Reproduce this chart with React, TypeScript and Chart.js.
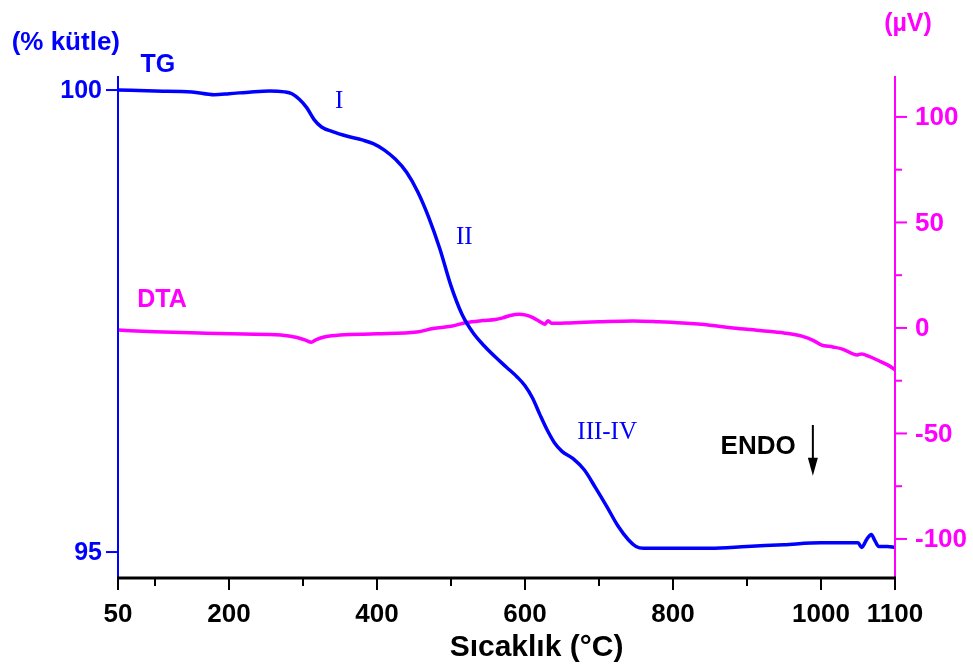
import React, { useEffect, useRef } from "react";
import { Chart, registerables } from "chart.js";

Chart.register(...registerables);

// ---- Data ----
const tgTemp = [50, 100, 150, 180, 200, 230, 255, 275, 285, 295, 305, 315, 325, 340, 360, 380, 395, 410, 425, 440, 455, 470, 485, 500, 515, 530, 545, 560, 575, 590, 600, 610, 620, 630, 640, 650, 665, 680, 695, 710, 725, 740, 750, 760, 780, 850, 900, 950, 1000, 1040, 1050, 1055, 1062, 1068, 1073, 1078, 1090, 1100];
const tgMass = [100.0, 99.99, 99.98, 99.95, 99.96, 99.98, 99.99, 99.98, 99.96, 99.9, 99.81, 99.68, 99.6, 99.55, 99.5, 99.46, 99.42, 99.35, 99.25, 99.11, 98.9, 98.62, 98.28, 97.88, 97.57, 97.37, 97.23, 97.11, 97.0, 96.89, 96.8, 96.67, 96.49, 96.32, 96.18, 96.09, 96.01, 95.89, 95.7, 95.5, 95.29, 95.13, 95.06, 95.04, 95.04, 95.04, 95.06, 95.08, 95.1, 95.1, 95.1, 95.05, 95.14, 95.19, 95.12, 95.06, 95.06, 95.05];

const dtaTemp = [50, 100, 160, 220, 270, 292, 305, 311, 318, 330, 350, 400, 454, 476, 500, 521, 543, 560, 570, 580, 592, 600, 610, 620, 627, 631, 636, 660, 700, 746, 780, 813, 850, 881, 920, 950, 975, 990, 1000, 1016, 1029, 1049, 1055, 1065, 1076, 1090, 1100];
const dtaSignal = [-1.0, -1.8, -2.4, -2.9, -3.3, -4.5, -6.0, -6.8, -5.5, -4.2, -3.3, -2.8, -1.9, -0.3, 0.8, 2.6, 3.5, 4.0, 4.8, 5.9, 6.5, 6.2, 5.0, 3.0, 1.8, 3.4, 2.2, 2.4, 2.9, 3.3, 2.9, 2.3, 1.3, 0.0, -1.3, -2.4, -4.0, -6.0, -8.0, -9.0, -10.0, -12.8, -12.3, -13.5, -15.2, -17.5, -19.8];

const xMajorTicks = [50, 200, 400, 600, 800, 1000, 1100];
const xMinorTicks = [100, 300, 500, 700, 900];
const leftTicks = [95, 100];
const rightMajorTicks = [-100, -50, 0, 50, 100];
const rightMinorTicks = [-75, -25, 25, 75];

const xTitle = "Sıcaklık (°C)";
const leftTitle = "(% kütle)";
const rightTitle = "(µV)";

// stage labels: [text, temperature, TG value]
const stageLabels: [string, number, number][] = [
  ["I", 349, 99.88],
  ["II", 518, 98.41],
  ["III-IV", 711, 96.29],
];

const BLUE = "#0000ff";
const MAGENTA = "#ff00ff";
const SANS = "'Liberation Sans', Arial, sans-serif";
const SERIF = "'Liberation Serif', 'Times New Roman', serif";

const decorPlugin = {
  id: "decor",
  afterDatasetsDraw(chart: any) {
    const ctx = chart.ctx as CanvasRenderingContext2D;
    const { left, right, top, bottom } = chart.chartArea;
    const xs = chart.scales.x;
    const yl = chart.scales.yTG;
    const yr = chart.scales.yDTA;
    ctx.save();

    const line = (x1: number, y1: number, x2: number, y2: number) => {
      ctx.beginPath();
      ctx.moveTo(x1, y1);
      ctx.lineTo(x2, y2);
      ctx.stroke();
    };

    // left axis
    ctx.strokeStyle = BLUE;
    ctx.lineWidth = 2;
    line(left, top, left, bottom);
    leftTicks.forEach((v) => {
      const y = yl.getPixelForValue(v);
      line(left - 12, y, left, y);
    });
    ctx.fillStyle = BLUE;
    ctx.font = `bold 25px ${SANS}`;
    ctx.textAlign = "right";
    ctx.textBaseline = "middle";
    leftTicks.forEach((v) => {
      ctx.fillText(String(v), left - 16, yl.getPixelForValue(v) + 1);
    });

    // right axis
    ctx.strokeStyle = MAGENTA;
    ctx.lineWidth = 2;
    line(right, top, right, bottom);
    rightMajorTicks.forEach((v) => {
      const y = yr.getPixelForValue(v);
      line(right, y, right + 12, y);
    });
    rightMinorTicks.forEach((v) => {
      const y = yr.getPixelForValue(v);
      line(right, y, right + 7, y);
    });
    ctx.fillStyle = MAGENTA;
    ctx.font = `bold 26px ${SANS}`;
    ctx.textAlign = "left";
    rightMajorTicks.forEach((v) => {
      ctx.fillText(String(v), right + 20, yr.getPixelForValue(v) + 1);
    });

    // x axis
    ctx.strokeStyle = "#000";
    ctx.lineWidth = 3;
    line(left - 1, bottom, right + 1, bottom);
    ctx.lineWidth = 2;
    xMajorTicks.forEach((v) => {
      const x = xs.getPixelForValue(v);
      line(x, bottom, x, bottom + 12);
    });
    xMinorTicks.forEach((v) => {
      const x = xs.getPixelForValue(v);
      line(x, bottom, x, bottom + 8);
    });
    ctx.fillStyle = "#000";
    ctx.font = `bold 26px ${SANS}`;
    ctx.textAlign = "center";
    ctx.textBaseline = "alphabetic";
    xMajorTicks.forEach((v) => {
      ctx.fillText(String(v), xs.getPixelForValue(v), bottom + 44);
    });
    ctx.font = `bold 30px ${SANS}`;
    ctx.fillText(xTitle, (left + right) / 2 + 30, bottom + 78);

    // axis titles
    ctx.fillStyle = BLUE;
    ctx.font = `bold 26px ${SANS}`;
    ctx.textAlign = "right";
    ctx.textBaseline = "middle";
    ctx.fillText(leftTitle, left + 2, top - 33);
    ctx.fillStyle = MAGENTA;
    ctx.font = `bold 25px ${SANS}`;
    ctx.textAlign = "center";
    ctx.fillText(rightTitle, right + 13, top - 52);

    // curve names
    ctx.font = `bold 25px ${SANS}`;
    ctx.fillStyle = BLUE;
    ctx.fillText("TG", xs.getPixelForValue(104), yl.getPixelForValue(100.27));
    ctx.fillStyle = MAGENTA;
    ctx.fillText("DTA", xs.getPixelForValue(109.5), yr.getPixelForValue(13.3));

    // stage labels
    ctx.fillStyle = BLUE;
    ctx.font = `25px ${SERIF}`;
    stageLabels.forEach(([t, xv, yv]) => {
      ctx.fillText(t, xs.getPixelForValue(xv), yl.getPixelForValue(yv));
    });

    // ENDO + arrow
    ctx.fillStyle = "#000";
    ctx.font = `bold 26px ${SANS}`;
    ctx.fillText("ENDO", xs.getPixelForValue(915), yr.getPixelForValue(-56.4));
    const ax = xs.getPixelForValue(989);
    const ay1 = yr.getPixelForValue(-46);
    const ay2 = yr.getPixelForValue(-70);
    ctx.strokeStyle = "#000";
    ctx.lineWidth = 2;
    line(ax, ay1, ax, ay2 - 8);
    ctx.beginPath();
    ctx.moveTo(ax - 5, ay2 - 18);
    ctx.lineTo(ax + 5, ay2 - 18);
    ctx.lineTo(ax, ay2);
    ctx.closePath();
    ctx.fill();

    ctx.restore();
  },
};

export default function App() {
  const ref = useRef<HTMLCanvasElement | null>(null);

  useEffect(() => {
    if (!ref.current) return;
    const chart = new Chart(ref.current, {
      type: "line",
      data: {
        datasets: [
          {
            label: "TG",
            data: tgTemp.map((t, i) => ({ x: t, y: tgMass[i] })),
            borderColor: BLUE,
            borderWidth: 3.5,
            pointRadius: 0,
            cubicInterpolationMode: "monotone",
            yAxisID: "yTG",
            order: 0,
            fill: false,
          },
          {
            label: "DTA",
            data: dtaTemp.map((t, i) => ({ x: t, y: dtaSignal[i] })),
            borderColor: MAGENTA,
            borderWidth: 3.5,
            pointRadius: 0,
            cubicInterpolationMode: "monotone",
            yAxisID: "yDTA",
            order: 1,
            fill: false,
          },
        ],
      },
      options: {
        animation: false,
        responsive: false,
        devicePixelRatio: 1,
        layout: { padding: { left: 118, right: 78, top: 76, bottom: 90 } },
        plugins: { legend: { display: false }, tooltip: { enabled: false } },
        scales: {
          x: { type: "linear", min: 50, max: 1100, display: false },
          yTG: { type: "linear", position: "left", min: 94.719, max: 100.152, display: false },
          yDTA: { type: "linear", position: "right", min: -118.5, max: 119.4, display: false },
        },
      },
      plugins: [decorPlugin],
    } as any);
    return () => chart.destroy();
  }, []);

  return (
    <div style={{ position: "absolute", left: 0, top: 0, width: 973, height: 668, background: "#fff" }}>
      <canvas ref={ref} width={973} height={668} style={{ width: 973, height: 668, display: "block" }} />
    </div>
  );
}
